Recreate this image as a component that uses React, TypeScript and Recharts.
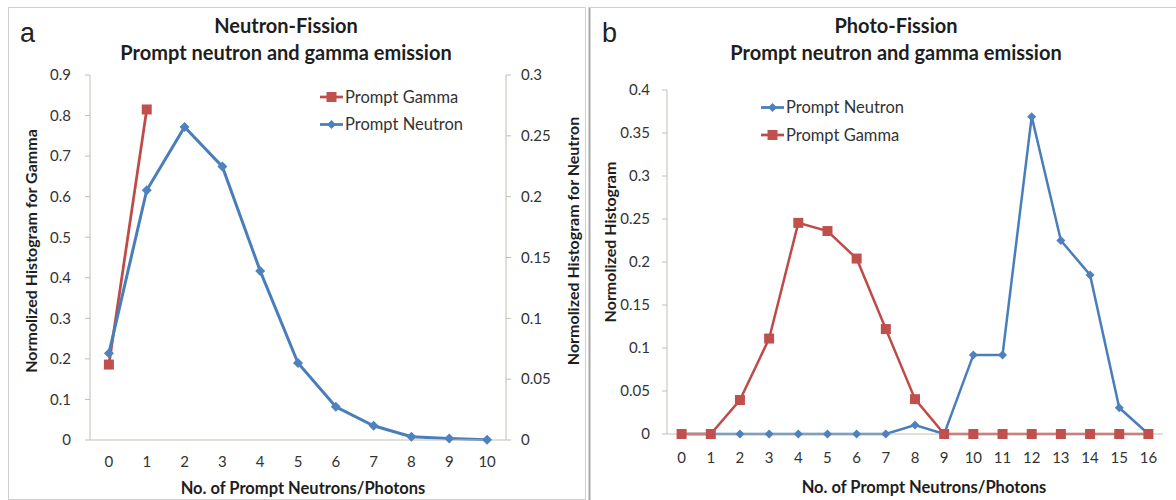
import React from "react";
import { LineChart, Line, XAxis, YAxis } from "recharts";

// panel a: neutron-induced fission
const nfCounts = [0, 1, 2, 3, 4, 5, 6, 7, 8, 9, 10];
const nfGamma = [0.186, 0.815, null, null, null, null, null, null, null, null, null];
const nfNeutron = [0.0712, 0.2053, 0.2573, 0.2247, 0.139, 0.0633, 0.0273, 0.0117, 0.0027, 0.0013, 0.0002];
const nfGammaTicks = [0, 0.1, 0.2, 0.3, 0.4, 0.5, 0.6, 0.7, 0.8, 0.9];
const nfNeutronTicks = [0, 0.05, 0.1, 0.15, 0.2, 0.25, 0.3];

// panel b: photo-fission
const pfCounts = [0, 1, 2, 3, 4, 5, 6, 7, 8, 9, 10, 11, 12, 13, 14, 15, 16];
const pfNeutron = [0, 0, 0, 0, 0, 0, 0, 0, 0.0105, 0, 0.092, 0.092, 0.369, 0.225, 0.185, 0.0305, 0];
const pfGamma = [0, 0, 0.0395, 0.111, 0.2455, 0.236, 0.204, 0.122, 0.0405, 0, 0, 0, 0, 0, 0, 0, 0];
const pfTicks = [0, 0.05, 0.1, 0.15, 0.2, 0.25, 0.3, 0.35, 0.4];

const nfData = nfCounts.map((n, i) => ({ n, gamma: nfGamma[i], neutron: nfNeutron[i] }));
const pfData = pfCounts.map((n, i) => ({ n, gamma: pfGamma[i], neutron: pfNeutron[i] }));

// category boundaries for the small x tick marks
const boundaries = (cats: number[]) => [...cats.map((c) => c - 0.5), cats[cats.length - 1] + 0.5];

const BLUE = "#4a7ebb";
const RED = "#be4b48";
const AXIS = "#c4bdb5";
const FONT = "Lato, 'Open Sans', sans-serif";
const tickStyle = { fontSize: 15, fill: "#333", fontFamily: FONT };

const squareDot = (size: number) => (props: any) => {
  const { cx, cy, index } = props;
  if (cx == null || cy == null || props.value == null) return <g key={index} />;
  return <rect key={index} x={cx - size / 2} y={cy - size / 2} width={size} height={size} fill="#c0504d" />;
};

const diamondDot = (r: number) => (props: any) => {
  const { cx, cy, index } = props;
  if (cx == null || cy == null) return <g key={index} />;
  return <path key={index} d={`M${cx},${cy - r}L${cx + r},${cy}L${cx},${cy + r}L${cx - r},${cy}Z`} fill="#4f81bd" />;
};

function LegendRow({ x, y, color, kind, label }: { x: number; y: number; color: string; kind: string; label: string }) {
  return (
    <g>
      <line x1={x} x2={x + 23} y1={y - 5.5} y2={y - 5.5} stroke={color} strokeWidth={2.75} />
      {kind === "square"
        ? <rect x={x + 6.5} y={y - 10.5} width={10} height={10} fill="#c0504d" />
        : <path d={`M${x + 11.5},${y - 10}L${x + 16},${y - 5.5}L${x + 11.5},${y - 1}L${x + 7},${y - 5.5}Z`} fill="#4f81bd" />}
      <text x={x + 25} y={y} fontSize={16.5} fill="#333" fontFamily={FONT}>{label}</text>
    </g>
  );
}

export default function App() {
  const bold = { fontFamily: FONT, fontWeight: 700, fill: "#1e1e1e" } as const;
  return (
    <div style={{ position: "absolute", left: 0, top: 0, width: 1176, height: 500, background: "#fff" }}>
      <div style={{ position: "absolute", left: 0, top: 0 }}>
        <LineChart width={586} height={500} data={nfData} margin={{ top: 75, right: 20, bottom: 30, left: 30 }}>
          <XAxis xAxisId="b" dataKey="n" type="number" domain={[-0.5, 10.5]} ticks={boundaries(nfCounts)}
            tick={false} axisLine={false} tickLine={{ stroke: AXIS }} tickSize={5} height={0} allowDataOverflow />
          <XAxis dataKey="n" type="number" domain={[-0.5, 10.5]} ticks={nfCounts} interval={0}
            tick={tickStyle} tickLine={false} axisLine={{ stroke: AXIS }} tickSize={8} tickMargin={8} height={30} allowDataOverflow />
          <YAxis yAxisId="g" orientation="left" domain={[0, 0.9]} ticks={nfGammaTicks} interval={0} width={60}
            tick={tickStyle} axisLine={{ stroke: AXIS }} tickLine={{ stroke: AXIS }} tickSize={5} tickMargin={14} />
          <YAxis yAxisId="n" orientation="right" domain={[0, 0.3]} ticks={nfNeutronTicks} interval={0} width={60}
            tick={{ ...tickStyle, textAnchor: "start" }} axisLine={{ stroke: AXIS }} tickLine={{ stroke: AXIS }} tickSize={5} tickMargin={10} />
          <Line yAxisId="g" dataKey="gamma" stroke={RED} strokeWidth={2.75} dot={squareDot(10)} isAnimationActive={false} />
          <Line yAxisId="n" dataKey="neutron" stroke={BLUE} strokeWidth={3} dot={diamondDot(5)} isAnimationActive={false} />
        </LineChart>
      </div>
      <div style={{ position: "absolute", left: 586, top: 0 }}>
        <LineChart width={590} height={500} data={pfData} margin={{ top: 90, right: 13, bottom: 36, left: 20 }}>
          <XAxis xAxisId="b" dataKey="n" type="number" domain={[-0.5, 16.5]} ticks={boundaries(pfCounts)}
            tick={false} axisLine={false} tickLine={{ stroke: AXIS }} tickSize={5} height={0} allowDataOverflow />
          <XAxis dataKey="n" type="number" domain={[-0.5, 16.5]} ticks={pfCounts} interval={0}
            tick={tickStyle} tickLine={false} axisLine={{ stroke: AXIS }} tickSize={8} tickMargin={10} height={30} allowDataOverflow />
          <YAxis domain={[0, 0.4]} ticks={pfTicks} interval={0} width={61}
            tick={tickStyle} axisLine={{ stroke: AXIS }} tickLine={{ stroke: AXIS }} tickSize={5} tickMargin={12} />
          <Line dataKey="neutron" stroke={BLUE} strokeWidth={2.5} dot={diamondDot(4.5)} isAnimationActive={false} />
          <Line dataKey="gamma" stroke={RED} strokeWidth={2.5} dot={squareDot(10)} isAnimationActive={false} />
        </LineChart>
      </div>
      <svg width={1176} height={500} style={{ position: "absolute", left: 0, top: 0, pointerEvents: "none" }}>
        <rect x={8.5} y={7.5} width={577} height={492} fill="none" stroke="#cfcfcf" />
        <line x1={589.5} x2={589.5} y1={7} y2={500} stroke="#a8a8a8" strokeWidth={2} />
        <line x1={589} x2={1176} y1={7.5} y2={7.5} stroke="#cfcfcf" />

        <text x={20} y={42} fontSize={27} fontFamily="'Liberation Sans', Arial, sans-serif" fill="#222">a</text>
        <text x={602} y={42} fontSize={27} fontFamily="'Liberation Sans', Arial, sans-serif" fill="#222">b</text>

        <text x={286} y={32.5} fontSize={20} textAnchor="middle" {...bold}>Neutron-Fission</text>
        <text x={286} y={59.5} fontSize={20} textAnchor="middle" {...bold}>Prompt neutron and gamma emission</text>
        <text x={896} y={32.5} fontSize={20} textAnchor="middle" {...bold}>Photo-Fission</text>
        <text x={896} y={59.5} fontSize={20} textAnchor="middle" {...bold}>Prompt neutron and gamma emission</text>

        <text x={303} y={494} fontSize={16.5} textAnchor="middle" {...bold}>No. of Prompt Neutrons/Photons</text>
        <text x={924} y={493} fontSize={16.5} textAnchor="middle" {...bold}>No. of Prompt Neutrons/Photons</text>

        <text transform="translate(30,251) rotate(-90)" fontSize={16} textAnchor="middle" dominantBaseline="central" {...bold}>Normolized Histogram for Gamma</text>
        <text transform="translate(572.5,241) rotate(-90)" fontSize={16} textAnchor="middle" dominantBaseline="central" {...bold}>Normolized Histogram for Neutron</text>
        <text transform="translate(609,242) rotate(-90)" fontSize={16} textAnchor="middle" dominantBaseline="central" {...bold}>Normolized Histogram</text>

        <LegendRow x={320} y={102.5} color={RED} kind="square" label="Prompt Gamma" />
        <LegendRow x={320} y={130} color={BLUE} kind="diamond" label="Prompt Neutron" />
        <LegendRow x={761} y={113} color={BLUE} kind="diamond" label="Prompt Neutron" />
        <LegendRow x={761} y={140.5} color={RED} kind="square" label="Prompt Gamma" />
      </svg>
    </div>
  );
}
